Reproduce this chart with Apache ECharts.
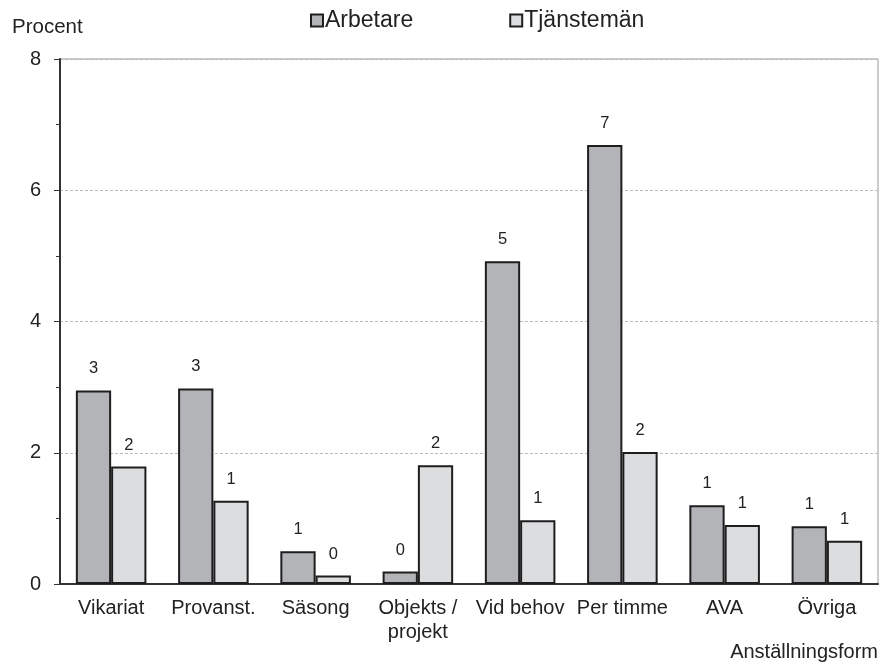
<!DOCTYPE html>
<html><head><meta charset="utf-8">
<script src="https://cdn.jsdelivr.net/npm/echarts@6/dist/echarts.min.js"></script>
<style>html,body{margin:0;padding:0;background:#fff}#c{width:887px;height:668px}</style>
</head><body><div id="c"></div>
<script>
const categories = ['Vikariat', 'Provanst.', 'Säsong', 'Objekts /\nprojekt', 'Vid behov', 'Per timme', 'AVA', 'Övriga'];
const arbetare = [2.95, 2.98, 0.50, 0.19, 4.92, 6.69, 1.20, 0.88];
const tjansteman = [1.79, 1.27, 0.13, 1.81, 0.97, 2.01, 0.90, 0.66];
const yTicks = [0, 2, 4, 6, 8];
const FONT = 'Liberation Sans, Arial, sans-serif';
const chart = echarts.init(document.getElementById('c'), null, {renderer: 'canvas'});
const lbl = {show: true, position: 'top', distance: 13, fontFamily: FONT, fontSize: 16.5, color: '#222',
  formatter: p => String(Math.round(p.value))};
chart.setOption({
  animation: false,
  textStyle: {fontFamily: FONT},
  grid: {left: 60, right: 9, top: 59, bottom: 84, show: true, borderColor: '#999', borderWidth: 1, backgroundColor: 'transparent'},
  legend: {top: 4, left: 305, itemGap: 96, itemWidth: 12, itemHeight: 12, icon: 'rect',
    textStyle: {fontFamily: FONT, fontSize: 23, color: '#222', padding: [0, 0, 0, -3]},
    data: ['Arbetare', 'Tjänstemän']},
  xAxis: {type: 'category', data: categories,
    axisLine: {lineStyle: {color: '#333', width: 2}}, axisTick: {show: false},
    axisLabel: {fontFamily: FONT, fontSize: 20, color: '#222', margin: 12, lineHeight: 24, interval: 0},
    name: 'Anställningsform', nameLocation: 'end', nameGap: 0,
    nameTextStyle: {fontFamily: FONT, fontSize: 20, color: '#222', align: 'right', verticalAlign: 'top', padding: [58, 0, 0, 0]}},
  yAxis: {type: 'value', min: 0, max: 8, interval: 2,
    axisLine: {show: true, lineStyle: {color: '#333', width: 2}},
    axisTick: {show: true, length: 6, lineStyle: {color: '#333'}},
    minorTick: {show: true, splitNumber: 2, length: 4, lineStyle: {color: '#333'}},
    splitLine: {show: true, lineStyle: {color: '#bbb', type: [3, 2], width: 1}},
    axisLabel: {fontFamily: FONT, fontSize: 20, color: '#222', margin: 19,
      formatter: v => yTicks.includes(v) ? String(v) : ''},
    name: 'Procent', nameLocation: 'end', nameGap: 21,
    nameTextStyle: {fontFamily: FONT, fontSize: 20.5, color: '#222', align: 'left', padding: [0, 0, 0, -48]}},
  series: [
    {name: 'Arbetare', type: 'bar', data: arbetare, barGap: '0%', barCategoryGap: '31%',
      itemStyle: {color: '#b3b4b8', borderColor: '#1e1e1e', borderWidth: 2}, label: lbl},
    {name: 'Tjänstemän', type: 'bar', data: tjansteman,
      itemStyle: {color: '#dcdddf', borderColor: '#1e1e1e', borderWidth: 2}, label: lbl}
  ]
});
</script></body></html>
